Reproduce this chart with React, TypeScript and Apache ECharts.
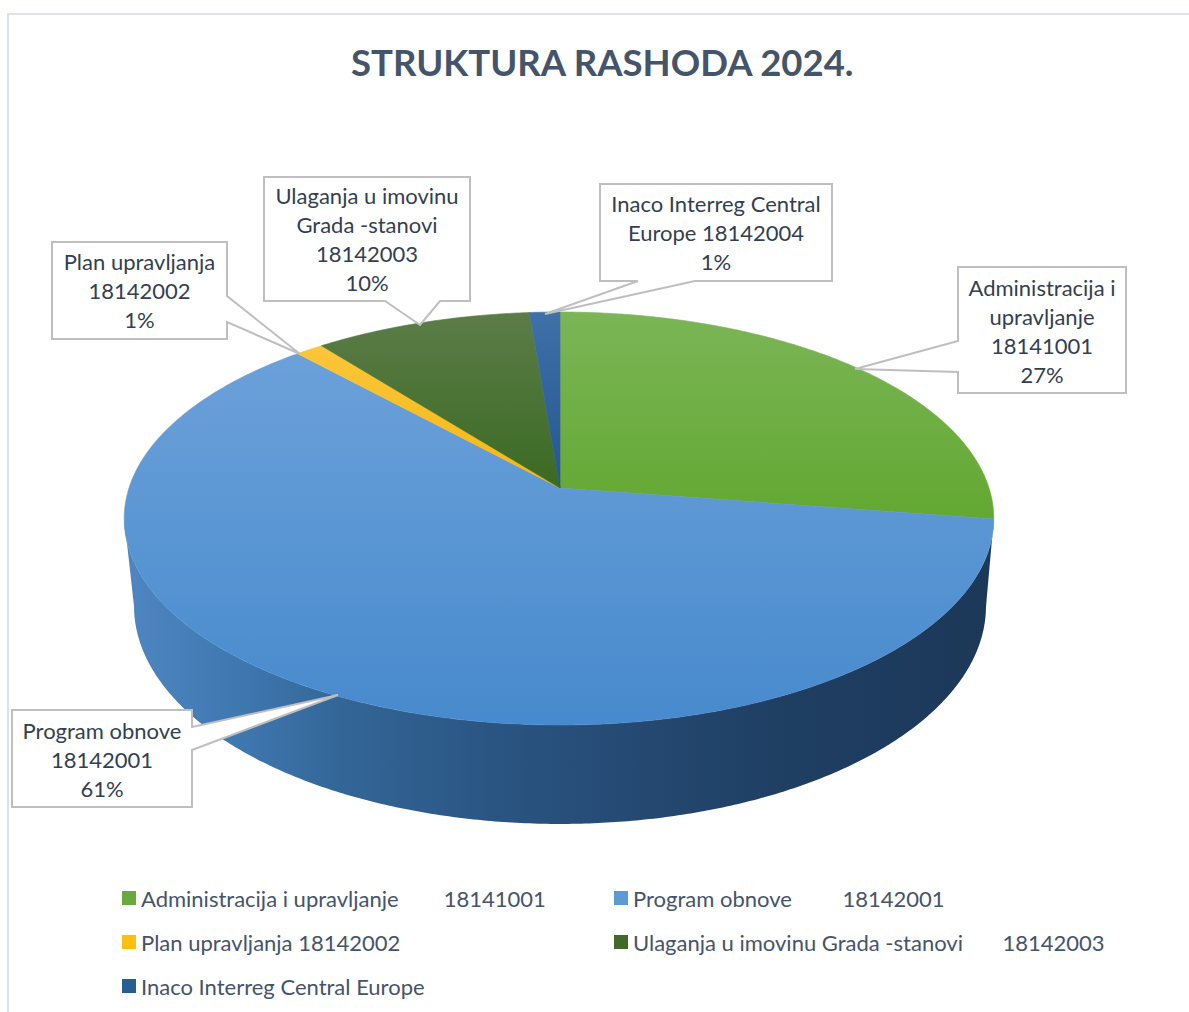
import React, { useEffect, useRef } from "react";
import * as echarts from "echarts";

const titleText = "STRUKTURA RASHODA 2024.";
const sliceNames = [
  "Administracija i upravljanje        18141001",
  "Program obnove         18142001",
  "Plan upravljanja 18142002",
  "Ulaganja u imovinu Grada -stanovi       18142003",
  "Inaco Interreg Central Europe",
];
const sliceValues = [27.4, 60.8, 1.2, 9.3, 1.3];
const topStops = [
  ["#7bb556", "#63a832"],
  ["#6ca1da", "#478acd"],
  ["#fbc63a", "#f5b70f"],
  ["#5c7c48", "#3a6a22"],
  ["#3f70a8", "#23558f"],
];
const topSpans = [
  [312, 518],
  [350, 725],
  [345, 490],
  [312, 490],
  [312, 490],
];
const legendSwatch = ["#6aa93c", "#5b9bd5", "#fdc010", "#43682b", "#255e91"];
const calloutLines = [
  ["Administracija i", "upravljanje", "18141001", "27%"],
  ["Program obnove", "18142001", "61%"],
  ["Plan upravljanja", "18142002", "1%"],
  ["Ulaganja u imovinu", "Grada -stanovi", "18142003", "10%"],
  ["Inaco Interreg Central", "Europe 18142004", "1%"],
];

// Perspective projection of the pie's top and bottom discs.
const APEX_X = 560;
const K = 0.1477;
const TOP = { y: 488, far: 176, a: 429, aLeft: 431 };
const BOTTOM = { y: 574, far: 185.6, a: 421.3, aLeft: 421.3 };
const project = (deg: number, d: typeof TOP) => {
  const t = (deg * Math.PI) / 180;
  const Y = Math.cos(t);
  const b = d.far * (1 + K);
  const a = Math.sin(t) < 0 ? d.aLeft : d.a;
  return [APEX_X + (a * Math.sin(t)) / (1 + K * Y), d.y - (b * Y) / (1 + K * Y)];
};
const TANGENT_R = (Math.acos(-K) * 180) / Math.PI;
const TANGENT_L = 360 - TANGENT_R;
const sweep = (from: number, to: number, d: typeof TOP) => {
  const out: number[][] = [];
  const n = Math.max(2, Math.ceil(Math.abs(to - from) * 2));
  for (let i = 0; i <= n; i++) out.push(project(from + ((to - from) * i) / n, d));
  return out;
};
const total = sliceValues.reduce((a, b) => a + b, 0);
const starts = sliceValues.map((_, i) => (sliceValues.slice(0, i).reduce((a, b) => a + b, 0) / total) * 360);

const grad = (x0: number, y0: number, x1: number, y1: number, stops: [number, string][]) =>
  new echarts.graphic.LinearGradient(x0, y0, x1, y1, stops.map(([offset, color]) => ({ offset, color })), true);

const wallGradient = () =>
  grad(125, 0, 993, 0, [
    [0, "#4f86c2"],
    [0.12, "#4079b2"],
    [0.25, "#336697"],
    [0.42, "#2a5583"],
    [0.58, "#254a73"],
    [0.75, "#1f3f63"],
    [1, "#1c3859"],
  ]);

const calloutShapes: { points: number[][]; box: number[]; line: number; dy: number }[] = [
  {
    box: [958, 267, 1126, 393],
    line: 29.3,
    dy: 1,
    points: [[958, 267], [1126, 267], [1126, 393], [958, 393], [958, 372], [855, 369], [958, 341]],
  },
  {
    box: [12, 710, 192, 807],
    line: 28.7,
    dy: 1,
    points: [[12, 710], [192, 710], [192, 727], [338, 695], [192, 750], [192, 807], [12, 807]],
  },
  {
    box: [52, 242, 227, 339],
    line: 28.7,
    dy: 0,
    points: [[52, 242], [227, 242], [227, 296], [300, 354], [227, 322], [227, 339], [52, 339]],
  },
  {
    box: [264, 177, 470, 301],
    line: 29.3,
    dy: 0,
    points: [[264, 177], [470, 177], [470, 301], [440, 301], [420, 325], [385, 301], [264, 301]],
  },
  {
    box: [600, 184, 832, 281],
    line: 29,
    dy: 0,
    points: [[600, 184], [832, 184], [832, 281], [695, 281], [545, 314], [638, 281], [600, 281]],
  },
];
const legendPos = [
  [122, 887],
  [614, 887],
  [122, 931],
  [614, 931],
  [122, 975],
];
const FONT = "Lato";

export default function App() {
  const ref = useRef<HTMLDivElement>(null);
  useEffect(() => {
    const chart = echarts.init(ref.current!, undefined, { renderer: "svg" });
    const series = sliceNames.map((name, i) => ({
      type: "custom",
      name,
      coordinateSystem: "none",
      silent: true,
      itemStyle: { color: legendSwatch[i] },
      data: [[sliceValues[i]]],
      renderItem: () => {
        const from = starts[i];
        const to = from + (sliceValues[i] / total) * 360;
        const children: any[] = [];
        const wa = Math.max(from, TANGENT_R);
        const wb = Math.min(to, TANGENT_L);
        if (wb > wa) {
          children.push({
            type: "polygon",
            shape: { points: [...sweep(wa, wb, TOP), ...sweep(wb, wa, BOTTOM)] },
            style: { fill: wallGradient() },
          });
        }
        const fill = grad(0, topSpans[i][0], 0, topSpans[i][1], [
          [0, topStops[i][0]],
          [1, topStops[i][1]],
        ]);
        children.push({
          type: "polygon",
          shape: { points: [[APEX_X, TOP.y], ...sweep(from, to, TOP)] },
          style: { fill, stroke: fill, lineWidth: 0.6 },
        });
        return { type: "group", children };
      },
    }));
    const callouts: any[] = [];
    calloutShapes.forEach((c, i) => {
      callouts.push({
        type: "polygon",
        z: 10,
        shape: { points: c.points },
        style: { fill: "#ffffff", stroke: "#bfbfbf", lineWidth: 2 },
      });
      const lines = calloutLines[i];
      const [x0, y0, x1, y1] = c.box;
      const cy = (y0 + y1) / 2 + c.dy;
      lines.forEach((t, j) => {
        callouts.push({
          type: "text",
          z: 11,
          x: (x0 + x1) / 2,
          y: cy + (j - (lines.length - 1) / 2) * c.line,
          style: {
            text: t,
            fill: "#333f50",
            font: `22px ${FONT}`,
            align: "center",
            verticalAlign: "middle",
          },
        });
      });
    });
    chart.setOption({
      animation: false,
      backgroundColor: "#ffffff",
      title: {
        text: titleText,
        left: 351,
        top: 43,
        padding: 0,
        textStyle: { fontFamily: FONT, fontSize: 36.5, fontWeight: "bold", color: "#44546a" },
      },
      legend: sliceNames.map((n, i) => ({
        data: [n],
        left: legendPos[i][0],
        top: legendPos[i][1],
        padding: 0,
        itemWidth: 14,
        itemHeight: 14,
        itemGap: 0,
        selectedMode: false,
        icon: "rect",
        textStyle: { fontFamily: FONT, fontSize: 22, color: "#44546a", padding: 0 },
      })),
      series,
      graphic: [
        {
          type: "polyline",
          silent: true,
          shape: { points: [[8, 1012], [8, 14], [1189, 14]] },
          style: { fill: "none", stroke: "#dde3ec", lineWidth: 2 },
        },
        ...callouts,
      ],
    });
    return () => chart.dispose();
  }, []);
  return <div ref={ref} style={{ position: "absolute", left: 0, top: 0, width: 1189, height: 1012 }} />;
}
